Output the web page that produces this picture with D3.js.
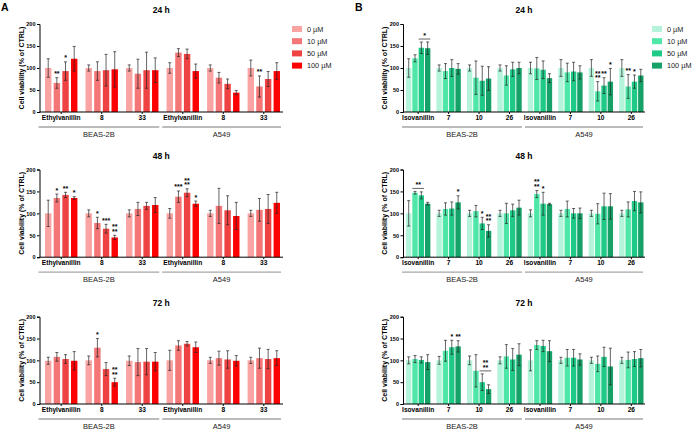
<!DOCTYPE html>
<html>
<meta charset="utf-8">
<head>
<title>cell viability</title>
<script src="https://cdn.jsdelivr.net/npm/d3@7/dist/d3.min.js"></script>
<style>
  body { margin: 0; background: #fff; }
  text { font-family: "Liberation Sans", Arial, sans-serif; }
</style>
</head>
<body>
<script>
// --- data (mean, SD per group; 4 concentrations each) ---
var concs = ["0 µM", "10 µM", "50 µM", "100 µM"];
var cells = ["BEAS-2B", "A549"];
var times = ["24 h", "48 h", "72 h"];
var compoundsA = ["Ethylvanillin", "8", "33"];
var compoundsB = ["Isovanillin", "7", "10", "26"];
var yTicks = [0, 50, 100, 150, 200];
var colorsA = ["#f9a3a3", "#f47676", "#ef4343", "#fe0000"];
var colorsB = ["#b3f4da", "#4fe7a7", "#1fca87", "#15a168"];

var meanA24 = [[100,66,93,121],[100,93,95,97],[100,87,95,95],[100,135,132,93],[100,78,64,44],[100,58,75,93]];
var sdA24   = [[21,12,21,28],[7,21,36,40],[7,33,41,28],[12,9,11,16],[7,12,11,5],[18,24,17,19]];
var meanA48 = [[100,135,142,135],[100,78,65,45],[100,110,117,119],[100,138,147,122],[100,117,107,94],[100,108,110,124]];
var sdA48   = [[30,9,6,3],[8,13,10,5],[8,15,8,17],[11,13,9,6],[7,40,33,31],[7,26,33,24]];
var meanA72 = [[99,108,103,99],[100,129,80,50],[99,96,97,97],[100,134,138,130],[100,105,102,99],[100,105,103,105]];
var sdA72   = [[8,10,10,21],[10,21,15,9],[11,31,30,21],[23,11,5,12],[7,16,20,12],[7,23,22,17]];

var meanB24 = [[100,122,146,145],[100,93,100,98],[100,78,71,76],[100,83,97,100],[100,99,96,77],[100,90,92,90],[100,47,60,69],[100,58,69,83]];
var sdB24   = [[21,8,13,14],[7,17,19,12],[7,38,33,27],[7,22,16,13],[13,25,20,10],[19,21,21,15],[19,22,18,30],[19,27,15,14]];
var meanB48 = [[100,147,141,122],[100,110,111,125],[100,105,77,60],[100,100,107,113],[100,144,122,121],[100,110,100,100],[100,99,116,116],[100,109,128,125]];
var sdB48   = [[29,3,8,3],[7,14,15,15],[7,13,14,14],[7,23,14,17],[8,8,26,2],[7,18,11,12],[7,23,30,29],[7,17,22,24]];
var meanB72 = [[100,103,101,96],[100,122,130,132],[100,76,50,34],[100,109,102,113],[100,135,133,121],[100,106,106,102],[100,92,108,86],[100,101,103,105]];
var sdB72   = [[8,8,7,17],[9,24,16,13],[10,37,19,10],[8,27,25,25],[24,10,13,24],[7,19,19,13],[7,18,22,42],[7,18,17,20]];

// significance marks: g = group, c = concentration index (or [from,to] for a bracket)
var starsA24 = [{g:0,c:1,t:["**"]},{g:0,c:2,t:["*"]},{g:5,c:1,t:["**"]}];
var starsA48 = [{g:0,c:1,t:["*"]},{g:0,c:2,t:["**"]},{g:0,c:3,t:["*"]},
                {g:1,c:1,t:["*"]},{g:1,c:2,t:["***"]},{g:1,c:3,t:["**","**"]},
                {g:3,c:1,t:["***"]},{g:3,c:2,t:["**","**"]},{g:3,c:3,t:["*"]}];
var starsA72 = [{g:1,c:1,t:["*"]},{g:1,c:3,t:["**","**"]}];
var starsB24 = [{g:0,c:[2,3],t:["*"]},{g:6,c:1,t:["**","**"]},{g:6,c:2,t:["**"]},{g:6,c:3,t:["*"]},
                {g:7,c:1,t:["**"]},{g:7,c:2,t:["*"]}];
var starsB48 = [{g:0,c:[1,2],t:["**"]},{g:1,c:3,t:["*"]},{g:2,c:2,t:["*"]},{g:2,c:3,t:["**","**"]},
                {g:4,c:1,t:["**","**"]},{g:4,c:2,t:["*"]}];
var starsB72 = [{g:1,c:2,t:["*"]},{g:1,c:3,t:["**"]},{g:2,c:[2,3],t:["**","**"]}];

// --- layout ---
var W = 692, H = 430;
var rows = [{top: 24, base: 112}, {top: 169.5, base: 257.2}, {top: 316.7, base: 404}];
var panelA = {axis: [39.5, 283], bars: [45, 280], innerPad: 0.26, compounds: compoundsA, colors: colorsA,
              means: [meanA24, meanA48, meanA72], sds: [sdA24, sdA48, sdA72], stars: [starsA24, starsA48, starsA72],
              legendX: 292, letter: "A", letterX: 1};
var panelB = {axis: [403, 645], bars: [406, 643.5], innerPad: 0.15, compounds: compoundsB, colors: colorsB,
              means: [meanB24, meanB48, meanB72], sds: [sdB24, sdB48, sdB72], stars: [starsB24, starsB48, starsB72],
              legendX: 652, letter: "B", letterX: 355};

var svg = d3.select("body").append("svg")
    .attr("width", W).attr("height", H);

function drawPanel(p) {
  var groups = [];
  cells.forEach(function(cl) {
    p.compounds.forEach(function(cp) { groups.push(cl + "|" + cp); });
  });
  var x0 = d3.scaleBand().domain(groups).range(p.bars).paddingInner(0.2).paddingOuter(0);
  var x1 = d3.scaleBand().domain(d3.range(concs.length)).range([0, x0.bandwidth()]).paddingInner(p.innerPad);

  rows.forEach(function(r, ri) {
    var y = d3.scaleLinear().domain([0, 200]).range([r.base, r.top]);
    var g = svg.append("g");
    var means = p.means[ri], sds = p.sds[ri];

    // title
    g.append("text")
      .attr("x", (p.axis[0] + p.axis[1]) / 2).attr("y", r.top - 11)
      .attr("text-anchor", "middle").attr("font-size", 8.5).attr("font-weight", "bold")
      .text(times[ri]);

    // bars
    var bars = [];
    groups.forEach(function(gk, gi) {
      means[gi].forEach(function(m, ci) {
        bars.push({g: gk, gi: gi, c: ci, m: m, sd: sds[gi][ci]});
      });
    });
    g.selectAll("rect.bar").data(bars).enter().append("rect")
      .attr("class", "bar")
      .attr("x", function(d) { return x0(d.g) + x1(d.c); })
      .attr("width", x1.bandwidth())
      .attr("y", function(d) { return y(d.m); })
      .attr("height", function(d) { return y(0) - y(d.m); })
      .attr("fill", function(d) { return p.colors[d.c]; });

    // error bars
    var eb = g.selectAll("g.err").data(bars).enter().append("g")
      .attr("stroke", "#222").attr("stroke-width", 0.7);
    eb.append("line")
      .attr("x1", function(d) { return x0(d.g) + x1(d.c) + x1.bandwidth() / 2; })
      .attr("x2", function(d) { return x0(d.g) + x1(d.c) + x1.bandwidth() / 2; })
      .attr("y1", function(d) { return y(d.m - d.sd); })
      .attr("y2", function(d) { return y(d.m + d.sd); });
    [1, -1].forEach(function(s) {
      eb.append("line")
        .attr("x1", function(d) { return x0(d.g) + x1(d.c) + x1.bandwidth() / 2 - 1.5; })
        .attr("x2", function(d) { return x0(d.g) + x1(d.c) + x1.bandwidth() / 2 + 1.5; })
        .attr("y1", function(d) { return y(d.m + s * d.sd); })
        .attr("y2", function(d) { return y(d.m + s * d.sd); });
    });

    // significance
    p.stars[ri].forEach(function(s) {
      var gk = groups[s.g], cx, yb;
      if (Array.isArray(s.c)) {
        var xa = x0(gk) + x1(s.c[0]), xb = x0(gk) + x1(s.c[1]) + x1.bandwidth();
        var topv = d3.max(s.c, function(c) { return means[s.g][c] + sds[s.g][c]; });
        var ly = y(topv) - 3;
        g.append("line").attr("x1", xa).attr("x2", xb).attr("y1", ly).attr("y2", ly)
          .attr("stroke", "#222").attr("stroke-width", 0.7);
        cx = (xa + xb) / 2; yb = ly - 1;
      } else {
        cx = x0(gk) + x1(s.c) + x1.bandwidth() / 2;
        yb = y(means[s.g][s.c] + sds[s.g][s.c]) - 1.5;
      }
      // stacked marks go in one text element, one tspan per line
      var n = s.t.length;
      var st = g.append("text").attr("x", cx).attr("y", yb - (n - 1) * 4.6)
        .attr("text-anchor", "middle").attr("font-size", 7).attr("font-weight", "bold");
      s.t.forEach(function(t, k) {
        st.append("tspan").attr("x", cx).attr("dy", k === 0 ? 0 : 4.6).text(t);
      });
    });

    // y axis
    var ya = g.append("g").attr("transform", "translate(" + p.axis[0] + ",0)")
      .call(d3.axisLeft(y).tickValues(yTicks).tickSize(2.5).tickPadding(1.5));
    ya.selectAll("text").attr("font-size", 5.5).attr("font-weight", "bold")
      .attr("font-family", "'Liberation Sans', Arial, sans-serif");
    ya.selectAll("line, path").attr("stroke", "#000");

    g.append("text")
      .attr("transform", "translate(" + (p.axis[0] - 16) + "," + ((r.top + r.base) / 2) + ") rotate(-90)")
      .attr("text-anchor", "middle").attr("font-size", 7).attr("font-weight", "bold")
      .text("Cell viability (% of CTRL)");

    // x axis
    var xa = g.append("g").attr("transform", "translate(0," + r.base + ")")
      .call(d3.axisBottom(x0).tickSize(2).tickPadding(1.5)
        .tickFormat(function(d) { return d.split("|")[1]; }));
    xa.select(".domain").remove();
    xa.selectAll("text").attr("font-size", 6.6).attr("font-weight", "bold")
      .attr("font-family", "'Liberation Sans', Arial, sans-serif");
    xa.selectAll("line").attr("stroke", "#000");
    g.append("line").attr("x1", p.axis[0]).attr("x2", p.axis[1])
      .attr("y1", r.base).attr("y2", r.base).attr("stroke", "#000").attr("stroke-width", 1);

    // cell line brackets
    var mid = (p.axis[0] + p.axis[1]) / 2;
    var spans = [[p.axis[0] - 1, mid - 2], [mid + 1, p.axis[1] - 2]];
    cells.forEach(function(cl, k) {
      g.append("line").attr("x1", spans[k][0]).attr("x2", spans[k][1])
        .attr("y1", r.base + 15).attr("y2", r.base + 15)
        .attr("stroke", "#a6a6a6").attr("stroke-width", 1.3);
      g.append("text").attr("x", (spans[k][0] + spans[k][1]) / 2).attr("y", r.base + 24.5)
        .attr("text-anchor", "middle").attr("font-size", 7.5).attr("fill", "#222")
        .text(cl);
    });
  });

  // legend
  var lg = svg.append("g");
  concs.forEach(function(c, i) {
    var ly = 29 + i * 12.2;
    lg.append("rect").attr("x", p.legendX).attr("y", ly - 3).attr("width", 10).attr("height", 6)
      .attr("fill", p.colors[i]);
    lg.append("text").attr("x", p.legendX + 15).attr("y", ly + 2.6)
      .attr("font-size", 7.3).attr("fill", "#222").text(c);
  });

  svg.append("text").attr("x", p.letterX).attr("y", 10.5)
    .attr("font-size", 10.5).attr("font-weight", "bold").text(p.letter);
}

drawPanel(panelA);
drawPanel(panelB);
</script>
</body>
</html>
